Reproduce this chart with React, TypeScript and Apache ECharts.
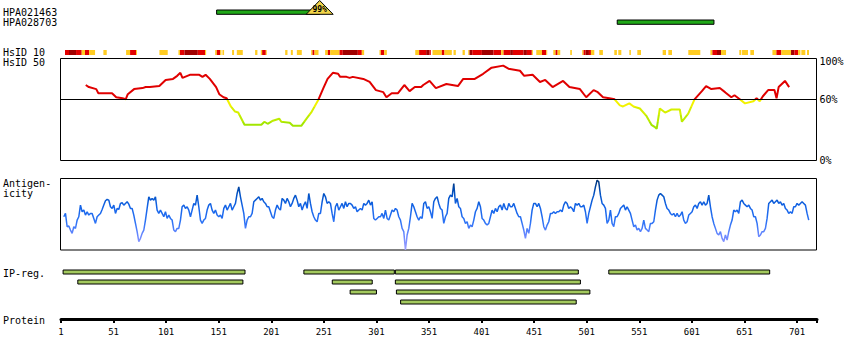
import React, { useEffect, useRef } from 'react';
import * as echarts from 'echarts';

// ---------- data ----------
const PROTEIN_MIN = 1;
const PROTEIN_MAX = 720;
const PROTEIN_TICK_STEP = 50;

const antibodyNames = ['HPA021463', 'HPA028703'];
const antibodyStarts = [149, 530];
const antibodyEnds = [247, 622];
const antibodyScores = ['99%', ''];

// HsID 10 strip: [start residue, end residue, level] level 0 = low, 1 = high, 2 = very high
const hsid10Segments: number[][] = [
  [4.8, 8.6, 1], [8.6, 15.3, 2], [15.3, 20.7, 1], [20.7, 23.8, 0], [23.8, 27.7, 1], [27.7, 33.4, 0],
  [41.3, 44.5, 0],
  [62.9, 66.7, 0], [66.7, 72.4, 1], [72.4, 73.3, 0],
  [94.6, 102.5, 0],
  [112.7, 114.2, 0], [114.2, 118.4, 1], [118.4, 131.1, 2], [131.1, 138, 1], [138, 139, 0],
  [147.6, 149.2, 0], [149.2, 152.3, 1], [152.3, 153.6, 0],
  [154.5, 156.1, 0], [163.7, 165.6, 0], [168.2, 173.9, 0], [185.6, 187.8, 0],
  [191, 192.3, 0], [192.3, 195.8, 1], [195.8, 196.7, 0],
  [214.2, 216.4, 0], [219.6, 221.5, 0], [225.3, 230, 0],
  [238.9, 240.2, 0], [240.2, 242.1, 1], [242.1, 245.9, 0],
  [252.2, 254.8, 0], [254.8, 257, 1], [257, 265.9, 0], [265.9, 269, 1], [269, 283.3, 2], [283.3, 287.1, 1], [287.1, 289.3, 0],
  [303.9, 305.2, 0], [305.2, 308.4, 1], [308.4, 310.9, 0],
  [337.9, 341.6, 0], [341.6, 348.3, 1], [348.3, 351.5, 2], [351.5, 352.7, 1],
  [354.3, 363.2, 0], [363.2, 365.7, 1], [365.7, 372.7, 0],
  [374.3, 376.5, 0], [382.9, 385.1, 0],
  [388.3, 389.5, 0], [389.5, 392.1, 2], [392.1, 401.3, 1], [401.3, 412.4, 2], [412.4, 419.7, 1], [419.7, 421.9, 0],
  [421.9, 428.2, 1], [428.2, 430.8, 2], [430.8, 440.9, 1], [440.9, 444.1, 2], [444.1, 448.8, 1], [448.8, 449.8, 0],
  [453, 458.4, 0], [458.4, 462.5, 1], [462.5, 463.4, 0],
  [469.2, 471.4, 0], [471.4, 473.3, 1], [473.3, 475.8, 0],
  [485.3, 486.9, 0],
  [496.7, 498, 0], [498, 499.9, 1], [499.9, 503.1, 2], [503.1, 505, 1], [505, 508.2, 0],
  [512.9, 516.4, 0], [527.2, 529.7, 0], [531, 533.9, 0], [541.5, 543, 0], [549.1, 552.6, 0],
  [573.2, 576.4, 0], [578.6, 582.1, 0], [597.6, 609, 0],
  [618.6, 620.5, 0], [620.5, 624.9, 1], [624.9, 628.7, 2], [628.7, 633.5, 0],
  [646.1, 648, 0], [648.7, 654.4, 0], [656.6, 660.1, 0],
  [677.6, 681.4, 0], [681.4, 686.1, 1], [686.1, 695.3, 0], [695.3, 698.5, 2], [698.5, 702, 1], [702, 704.2, 0],
  [705.1, 708.9, 0], [710.5, 712.4, 0],
];

// HsID 50 (% identity)
const hsid50Residues = [
  25, 28, 35, 37, 50, 54, 60, 63, 65, 71, 79, 82, 86, 95, 98, 101, 108, 112, 115, 117,
  124, 133, 136, 139, 143, 149, 152, 156, 159, 163, 167, 170, 176, 184, 192, 195, 198, 203, 209, 211,
  219, 222, 230, 235, 240, 246, 251, 255, 260, 265, 267, 273, 276, 279, 289, 295, 301, 308, 311, 316,
  322, 328, 333, 338, 344, 346, 352, 358, 368, 379, 384, 395, 403, 411, 422, 427, 438, 442, 450, 457,
  462, 469, 479, 485, 495, 501, 508, 512, 517, 523, 528, 533, 536, 542, 546, 552, 558, 563, 566, 568,
  571, 576, 582, 590, 592, 598, 604, 611, 615, 620, 628, 633, 639, 642, 647, 652, 660, 663, 666, 669,
  674, 680, 682, 684, 690, 694,
];
const hsid50Values = [
  74, 72, 70, 66, 66, 62, 61, 60, 65, 70, 71, 72, 72, 73, 76, 79, 80, 83, 86, 81,
  84, 84, 82, 84, 80, 72, 65, 62, 61, 53, 48, 47, 35, 35, 35, 38, 36, 39, 41, 38,
  37, 34, 34, 41, 48, 59, 71, 80, 86, 85, 82, 82, 81, 82, 80, 77, 69, 67, 62, 66,
  66, 74, 68, 72, 72, 74, 78, 71, 75, 73, 80, 80, 85, 91, 93, 90, 88, 83, 84, 77,
  79, 72, 78, 72, 70, 62, 69, 67, 62, 61, 60, 54, 53, 56, 53, 51, 44, 35, 33, 31,
  51, 47, 50, 50, 38, 46, 60, 68, 73, 70, 71, 67, 62, 64, 60, 56, 58, 61, 58, 63,
  69, 69, 61, 72, 78, 72,
];

// Antigenicity, sampled at evenly spaced residues
const antigenStartResidue = 4.14;
const antigenResidueStep = 1.585;
const antigenValues = [
  100, 110, 70, 72, 60, 50, 70, 65, 90, 100,
  135, 115, 120, 105, 115, 105, 110, 110, 95, 80,
  100, 105, 110, 122, 135, 148, 152, 150, 130, 125,
  135, 110, 125, 122, 140, 142, 135, 140, 145, 138,
  125, 125,
  105, 80, 55, 25, 35, 50, 60, 90, 125, 160,
  150, 155, 150, 160, 120, 110, 120, 110, 100, 115,
  95, 105, 95, 90, 60, 55, 65, 65, 90, 130,
  135, 125, 130, 120, 100, 120, 140, 135, 165, 130,
  90, 80, 90, 95, 120, 135, 140, 120, 110, 120,
  105, 100, 105, 95, 125, 135, 120, 130, 140, 120,
  130, 140, 170, 190, 160, 135, 110, 65, 90, 100,
  100, 110, 145, 150, 155, 160, 150, 155, 145, 140,
  130, 130, 115, 100, 95, 120, 135, 125, 120, 155,
  150, 140, 155, 145, 130, 140, 155, 165, 150, 130,
  140, 120, 135, 145, 125, 170, 140, 115, 100, 90,
  85, 110, 110, 145, 170, 160, 140, 145, 140, 110,
  85, 130, 140, 120, 130, 140, 125, 145, 130, 140,
  140, 135, 125, 130, 115, 120, 125, 120, 140, 135,
  140, 150, 135, 145, 95, 90, 95, 100, 100, 110,
  95, 120, 95, 90, 105, 120, 115, 125, 120, 100,
  90, 65, 55, 0, 45, 65, 100, 140, 130, 115,
  100,
  90, 100, 95, 140, 145, 125, 130, 115, 95, 145,
  155, 160, 140, 125, 120, 80, 100, 110, 155, 165,
  160, 200, 140, 155, 130, 125, 100, 95, 80, 85,
  65, 75, 70, 90, 115, 125, 145, 130, 95, 90,
  80, 75, 80, 100, 120, 110, 125, 115, 130, 135,
  120, 140, 125, 120, 140, 130, 130, 140, 125, 110,
  100, 100, 80, 60, 35, 65, 50, 80, 120, 140,
  140, 130, 140, 125, 100, 70, 60, 75, 85, 110,
  110, 115, 110, 115, 115, 120, 115, 135, 145, 140,
  125, 130, 125, 115, 140, 135, 140, 130, 130, 135,
  115, 80, 110, 130, 150, 165, 190, 210, 205, 165,
  140, 135, 125, 80, 90, 120, 80, 70, 100, 100,
  110, 125, 130, 135, 120, 130, 120, 110, 90, 70,
  75, 60, 65, 55, 65, 90, 65, 60, 55, 80,
  80, 85, 120, 150, 165, 170, 165, 160, 140, 125,
  120, 110, 105, 110, 100, 110, 100, 105, 115, 90,
  80, 85, 105, 110, 115, 130, 135, 125, 140, 145,
  135, 145, 135, 140, 165, 130, 100, 80, 65, 50,
  45, 55, 35, 25, 45, 30, 55, 75, 90, 120,
  115, 120, 110, 145, 150, 140, 135, 130, 135, 125,
  120, 100, 100, 80, 40, 45, 55, 55, 65, 95,
  140, 145, 150, 140, 145, 150, 140, 145, 135, 140,
  125, 120, 110, 115, 110, 130, 130, 140, 135, 140,
  145, 140, 135, 110, 90,
];

// IP-regions: start, end, row
const ipStarts = [3, 232, 319, 522, 17, 259, 319, 276, 320, 324];
const ipEnds = [176, 318, 493, 675, 174, 297, 495, 301, 504, 491];
const ipRows = [0, 0, 0, 0, 1, 1, 1, 2, 2, 3];
const ipRowNames = ['r1', 'r2', 'r3', 'r4'];

const hsid50Ticks = [0, 60, 100];

// ---------- styles ----------
const MONO = '"DejaVu Sans Mono", monospace';
const stripColors = ['#ffcc22', '#e20000', '#a00000'];

export default function App() {
  const ref = useRef<HTMLDivElement>(null);

  useEffect(() => {
    if (!ref.current) return;
    const chart = echarts.init(ref.current, null, { renderer: 'svg' });

    const L = 61;
    const W = 756;

    const hiddenX = (i: number) => ({
      type: 'value', gridIndex: i, min: PROTEIN_MIN, max: PROTEIN_MAX, show: false,
    });

    const hsid50Data = hsid50Residues.map((r, i) => [r, hsid50Values[i]]);
    const antigenData = antigenValues.map((v, i) => [antigenStartResidue + i * antigenResidueStep, v]);
    const antibodyData = antibodyStarts.map((s, i) => [s, antibodyEnds[i], i]);
    const ipData = ipStarts.map((s, i) => [s, ipEnds[i], ipRows[i]]);

    const leftLabel = (text: string, y: number) => ({
      type: 'text',
      x: 3,
      y,
      silent: true,
      style: { text, font: `10px ${MONO}`, fill: '#000', verticalAlign: 'middle', align: 'left' },
    });

    const labelText = { fontFamily: MONO, fontSize: 10, color: '#000' };

    const option: any = {
      animation: false,
      backgroundColor: '#fff',
      grid: [
        { left: L, top: 7, width: W, height: 20 },
        { left: L, top: 50, width: W, height: 5 },
        { left: 60.5, top: 58.5, width: W, height: 102, show: true, borderColor: '#000', borderWidth: 1, backgroundColor: 'transparent' },
        { left: 60.5, top: 178.5, width: W, height: 71.5, show: true, borderColor: '#000', borderWidth: 1, backgroundColor: 'transparent' },
        { left: L, top: 267, width: W, height: 40 },
        { left: L, top: 318, width: W, height: 1 },
      ],
      xAxis: [
        hiddenX(0), hiddenX(1), hiddenX(2), hiddenX(3), hiddenX(4),
        {
          type: 'value', gridIndex: 5, min: PROTEIN_MIN, max: PROTEIN_MAX, interval: PROTEIN_TICK_STEP,
          position: 'bottom',
          axisLine: { show: true, lineStyle: { color: '#000', width: 3 } },
          axisTick: { show: true, length: 4, lineStyle: { color: '#000', width: 2 } },
          splitLine: { show: false },
          axisLabel: {
            margin: 8, color: '#000', fontFamily: MONO, fontSize: 9,
            showMinLabel: true, showMaxLabel: true,
            formatter: (v: number) => ((v - PROTEIN_MIN) % PROTEIN_TICK_STEP === 0 ? String(v) : ''),
          },
        },
      ],
      yAxis: [
        { type: 'category', gridIndex: 0, data: antibodyNames, inverse: true, show: false },
        { type: 'value', gridIndex: 1, min: 0, max: 1, show: false },
        {
          type: 'value', gridIndex: 2, min: 0, max: 100, interval: 20, position: 'right',
          axisLine: { show: false }, axisTick: { show: false }, splitLine: { show: false },
          axisLabel: {
            margin: 3, ...labelText,
            formatter: (v: number) => {
              if (!hsid50Ticks.includes(v)) return '';
              return v === 100 ? `{top|${v}%}` : `{n|${v}%}`;
            },
            rich: {
              top: { ...labelText, padding: [6, 0, 0, 0] },
              n: { ...labelText },
            },
          },
        },
        { type: 'value', gridIndex: 3, min: 0, max: 215, show: false },
        { type: 'category', gridIndex: 4, data: ipRowNames, inverse: true, show: false },
        { type: 'value', gridIndex: 5, show: false },
      ],
      visualMap: [
        {
          type: 'piecewise', show: false, seriesIndex: 2, dimension: 1,
          pieces: [
            { gte: 60, color: '#e00000' },
            { gte: 52, lt: 60, color: '#f2f200' },
            { gte: 45, lt: 52, color: '#d6f000' },
            { gte: 38, lt: 45, color: '#bdec00' },
            { lt: 38, color: '#a2e600' },
          ],
        },
        {
          type: 'continuous', show: false, seriesIndex: 3, dimension: 1, min: 0, max: 215,
          inRange: { color: ['#a0a0ff', '#6a88ff', '#2a72f5', '#1464e8', '#0050c0', '#003070'] },
        },
      ],
      series: [
        {
          type: 'custom', xAxisIndex: 0, yAxisIndex: 0, data: antibodyData, silent: true,
          encode: { x: [0, 1], y: 2 },
          renderItem: (params: any, api: any) => {
            const i = params.dataIndex;
            const s = api.coord([api.value(0), i]);
            const e = api.coord([api.value(1), i]);
            const children: any[] = [
              { type: 'rect', shape: { x: s[0], y: s[1] - 2, width: e[0] - s[0], height: 4.3 }, style: { fill: '#20a818', stroke: '#000', lineWidth: 1 } },
            ];
            if (antibodyScores[i]) {
              children.push({
                type: 'polygon',
                shape: { points: [[e[0] - 13.5, s[1] + 2.3], [e[0] + 13.5, s[1] + 2.3], [e[0], s[1] - 11.5]] },
                style: { fill: '#f2d448', stroke: '#000', lineWidth: 1 },
              });
              children.push({
                type: 'text',
                style: { text: antibodyScores[i], x: e[0], y: s[1] - 2.5, align: 'center', verticalAlign: 'middle', font: 'bold 8px "DejaVu Sans Mono"', fill: '#000' },
              });
            }
            return { type: 'group', children };
          },
        },
        {
          type: 'custom', xAxisIndex: 1, yAxisIndex: 1, data: hsid10Segments, silent: true,
          encode: { x: [0, 1] },
          renderItem: (params: any, api: any) => {
            const a = api.coord([api.value(0), 1]);
            const b = api.coord([api.value(1), 0]);
            return {
              type: 'rect',
              shape: { x: a[0], y: a[1], width: b[0] - a[0], height: b[1] - a[1] },
              style: { fill: stripColors[api.value(2)] },
            };
          },
        },
        {
          type: 'line', xAxisIndex: 2, yAxisIndex: 2, data: hsid50Data, showSymbol: false, silent: true,
          lineStyle: { width: 2 },
          markLine: {
            silent: true, symbol: 'none', label: { show: false },
            lineStyle: { color: '#000', width: 1, type: 'solid' },
            data: [{ yAxis: 60 }],
          },
        },
        {
          type: 'line', xAxisIndex: 3, yAxisIndex: 3, data: antigenData, showSymbol: false, silent: true,
          lineStyle: { width: 1.5 },
        },
        {
          type: 'custom', xAxisIndex: 4, yAxisIndex: 4, data: ipData, silent: true,
          encode: { x: [0, 1], y: 2 },
          renderItem: (params: any, api: any) => {
            const row = api.value(2);
            const s = api.coord([api.value(0), row]);
            const e = api.coord([api.value(1), row]);
            return {
              type: 'rect',
              shape: { x: s[0], y: s[1] - 2, width: e[0] - s[0], height: 4 },
              style: { fill: '#a3c95e', stroke: '#000', lineWidth: 1 },
            };
          },
        },
      ],
      graphic: [
        leftLabel('HPA021463', 12.5),
        leftLabel('HPA028703', 22.5),
        leftLabel('HsID 10', 52.5),
        leftLabel('HsID 50', 62.5),
        leftLabel('Antigen-', 183.5),
        leftLabel('icity', 193.5),
        leftLabel('IP-reg.', 273),
        leftLabel('Protein', 320),
      ],
    };

    chart.setOption(option);
    return () => chart.dispose();
  }, []);

  return (
    <div
      ref={ref}
      style={{ position: 'absolute', left: 0, top: 0, width: 850, height: 360, background: '#fff' }}
    />
  );
}
